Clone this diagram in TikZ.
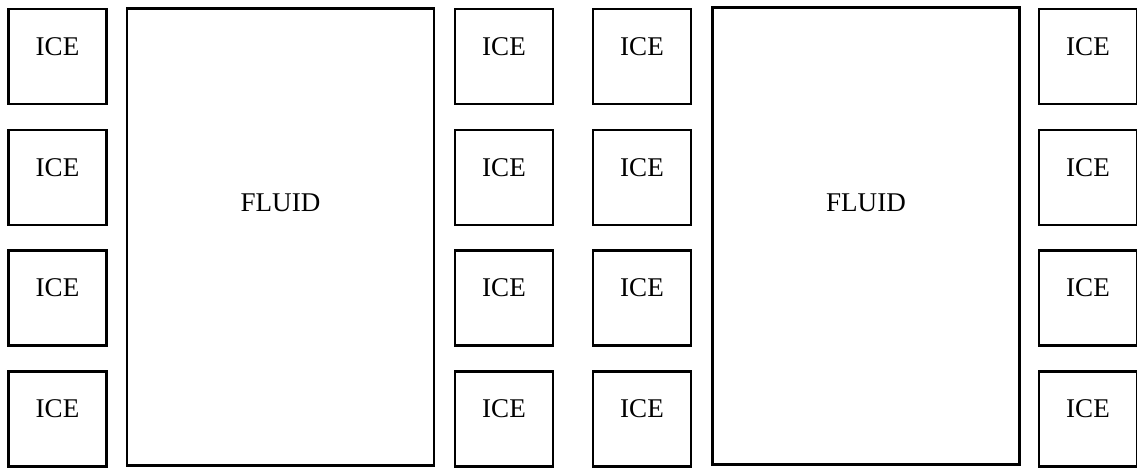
\documentclass[tikz,border=0pt]{standalone}
\usepackage{fontspec}
\setmainfont{Liberation Serif}

\tikzset{
  icebox/.style={draw, line width=1.2pt, minimum width=1.96cm, minimum height=1.9cm, inner sep=0pt},
  fluidbox/.style={draw, line width=1.2pt, minimum width=6.14cm, minimum height=9.14cm, inner sep=0pt},
  lbl/.style={font=\fontsize{15.4}{18}\selectfont, inner sep=0pt}
}

\begin{document}
\begin{tikzpicture}[x=0.02cm,y=-0.02cm]
  \useasboundingbox (0,0) rectangle (1137,470);
  % ice columns
  \foreach \c/\x in {a/57.5, b/504, c/642, d/1088}
    \foreach \r/\y in {1/56.5, 2/177.5, 3/298, 4/419} {
      \node[icebox] (ice\c\r) at (\x,\y) {};
      \node[lbl] (txt\c\r) at ([yshift=0.2cm]ice\c\r.center) {ICE};
    }
  % fluid channels
  \node[fluidbox] (fluidL) at (280.5,237) {};
  \node[lbl] (txtL) at ([yshift=0.68cm]fluidL.center) {FLUID};
  \node[fluidbox] (fluidR) at (866,236) {};
  \node[lbl] (txtR) at ([yshift=0.66cm]fluidR.center) {FLUID};
\end{tikzpicture}
\end{document}
